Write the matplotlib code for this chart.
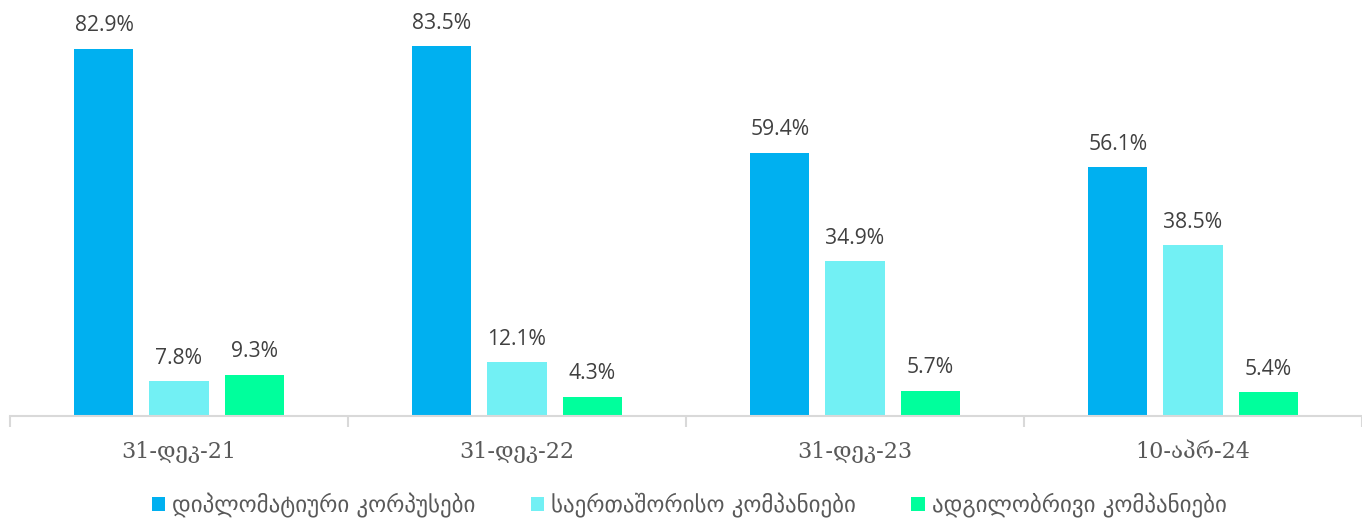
import matplotlib
matplotlib.use("Agg")
import matplotlib.pyplot as plt
import numpy as np

categories = ["31-დეკ-21", "31-დეკ-22", "31-დეკ-23", "10-აპრ-24"]
series_names = ["დიპლომატიური კორპუსები", "საერთაშორისო კომპანიები", "ადგილობრივი კომპანიები"]
diplomatic = [82.9, 83.5, 59.4, 56.1]
international = [7.8, 12.1, 34.9, 38.5]
local = [9.3, 4.3, 5.7, 5.4]
colors = ["#00B0F0", "#72F0F4", "#00FF9C"]

fig = plt.figure(figsize=(13.62, 5.19), dpi=100)
ax = fig.add_axes([10/1362, 103/519, 1352/1362, 416/519])

x = np.arange(len(categories))
width = 0.1746
step = 0.222
for i, (vals, name, c) in enumerate(zip([diplomatic, international, local], series_names, colors)):
    xs = x + (i - 1) * step
    ax.bar(xs, vals, width=width, color=c, label=name)
    for xi, v in zip(xs, vals):
        ax.annotate(f"{v:.1f}%", (xi, v), xytext=(0, 9), textcoords="offset points",
                    ha="center", va="bottom", fontsize=15.2, color="#404040",
                    family=["Open Sans", "DejaVu Sans"])

ax.set_xlim(-0.5, len(categories) - 0.5)
ax.set_ylim(0, 93.9)
ax.set_yticks([])
for s in ["top", "right", "left"]:
    ax.spines[s].set_visible(False)
ax.spines["bottom"].set_color("#D9D9D9")
ax.spines["bottom"].set_linewidth(1.5)

ax.set_xticks(np.arange(len(categories) + 1) - 0.5)
ax.set_xticklabels([])
ax.tick_params(axis="x", which="major", length=8, width=1.5, color="#D9D9D9")
ax.set_xticks(x, minor=True)
ax.set_xticklabels(categories, minor=True, fontsize=16, color="#595959",
                   family=["DejaVu Serif", "DejaVu Sans"])
ax.tick_params(axis="x", which="minor", length=0, pad=18)

leg = fig.legend(loc="center", bbox_to_anchor=(689/1362, 1 - 505/519), ncol=3, frameon=False,
                 handlelength=0.6, handleheight=0.6, handletextpad=0.3, columnspacing=2.4,
                 borderpad=0, prop={"family": ["DejaVu Sans"], "size": 16.5})
for t in leg.get_texts():
    t.set_color("#595959")

fig.savefig("out.png", dpi=100)
